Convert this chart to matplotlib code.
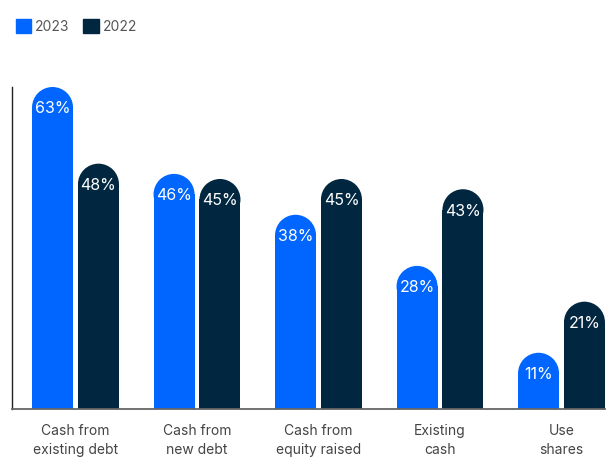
import matplotlib.pyplot as plt
from matplotlib.patches import Ellipse, Patch
import numpy as np

# data
categories = ['Cash from\nexisting debt', 'Cash from\nnew debt', 'Cash from\nequity raised',
              'Existing\ncash', 'Use\nshares']
vals_2023 = [63, 46, 38, 28, 11]
vals_2022 = [48, 45, 45, 43, 21]
series = ['2023', '2022']
colors = ['#0066FF', '#002640']

plt.rcParams['font.family'] = ['Inter', 'DejaVu Sans']

W, H = 613, 458
fig = plt.figure(figsize=(W / 100, H / 100), dpi=100)
# axes box in pixels: left 12, right 605, bottom 409, top 87
ax = fig.add_axes([12 / W, (H - 409) / H, (605 - 12) / W, (409 - 87) / H])

xlim = (-0.5226, 4.358)
ylim = (0, 63)
ax.set_xlim(*xlim)
ax.set_ylim(*ylim)

bw = 0.3374
off = 0.189
x = np.arange(len(categories))

# pixel scales so the caps come out as half circles
px_per_x = (605 - 12) / (xlim[1] - xlim[0])
px_per_y = (409 - 87) / (ylim[1] - ylim[0])
r_y = (bw * px_per_x / 2) / px_per_y

for vals, dx, c in [(vals_2023, -off, colors[0]), (vals_2022, off, colors[1])]:
    for xi, v in zip(x, vals):
        ax.bar(xi + dx, v - r_y, width=bw, color=c, linewidth=0, zorder=2)
        ax.add_patch(Ellipse((xi + dx, v - r_y), bw, 2 * r_y, color=c, linewidth=0, zorder=2))
        ax.text(xi + dx, v - 4.3, f'{v}%', color='white', ha='center', va='center',
                fontsize=11.5, zorder=3)

ax.set_xticks(x)
ax.set_xticklabels(categories, fontsize=10, color='#444444', linespacing=1.4)
ax.tick_params(axis='x', length=0, pad=11)
ax.set_yticks([])

for s in ['top', 'right']:
    ax.spines[s].set_visible(False)
ax.spines['left'].set_color('#222222')
ax.spines['left'].set_linewidth(1)
ax.spines['bottom'].set_color('#666666')
ax.spines['bottom'].set_linewidth(1.3)

handles = [Patch(color=colors[0], label=series[0]), Patch(color=colors[1], label=series[1])]
fig.legend(handles=handles, loc='upper left', bbox_to_anchor=(0.005, 0.985), ncol=2,
           frameon=False, fontsize=10, handlelength=1.1, handleheight=1.1,
           handletextpad=0.3, columnspacing=1.0, labelcolor='#555555')

fig.savefig('out.png', dpi=100)
